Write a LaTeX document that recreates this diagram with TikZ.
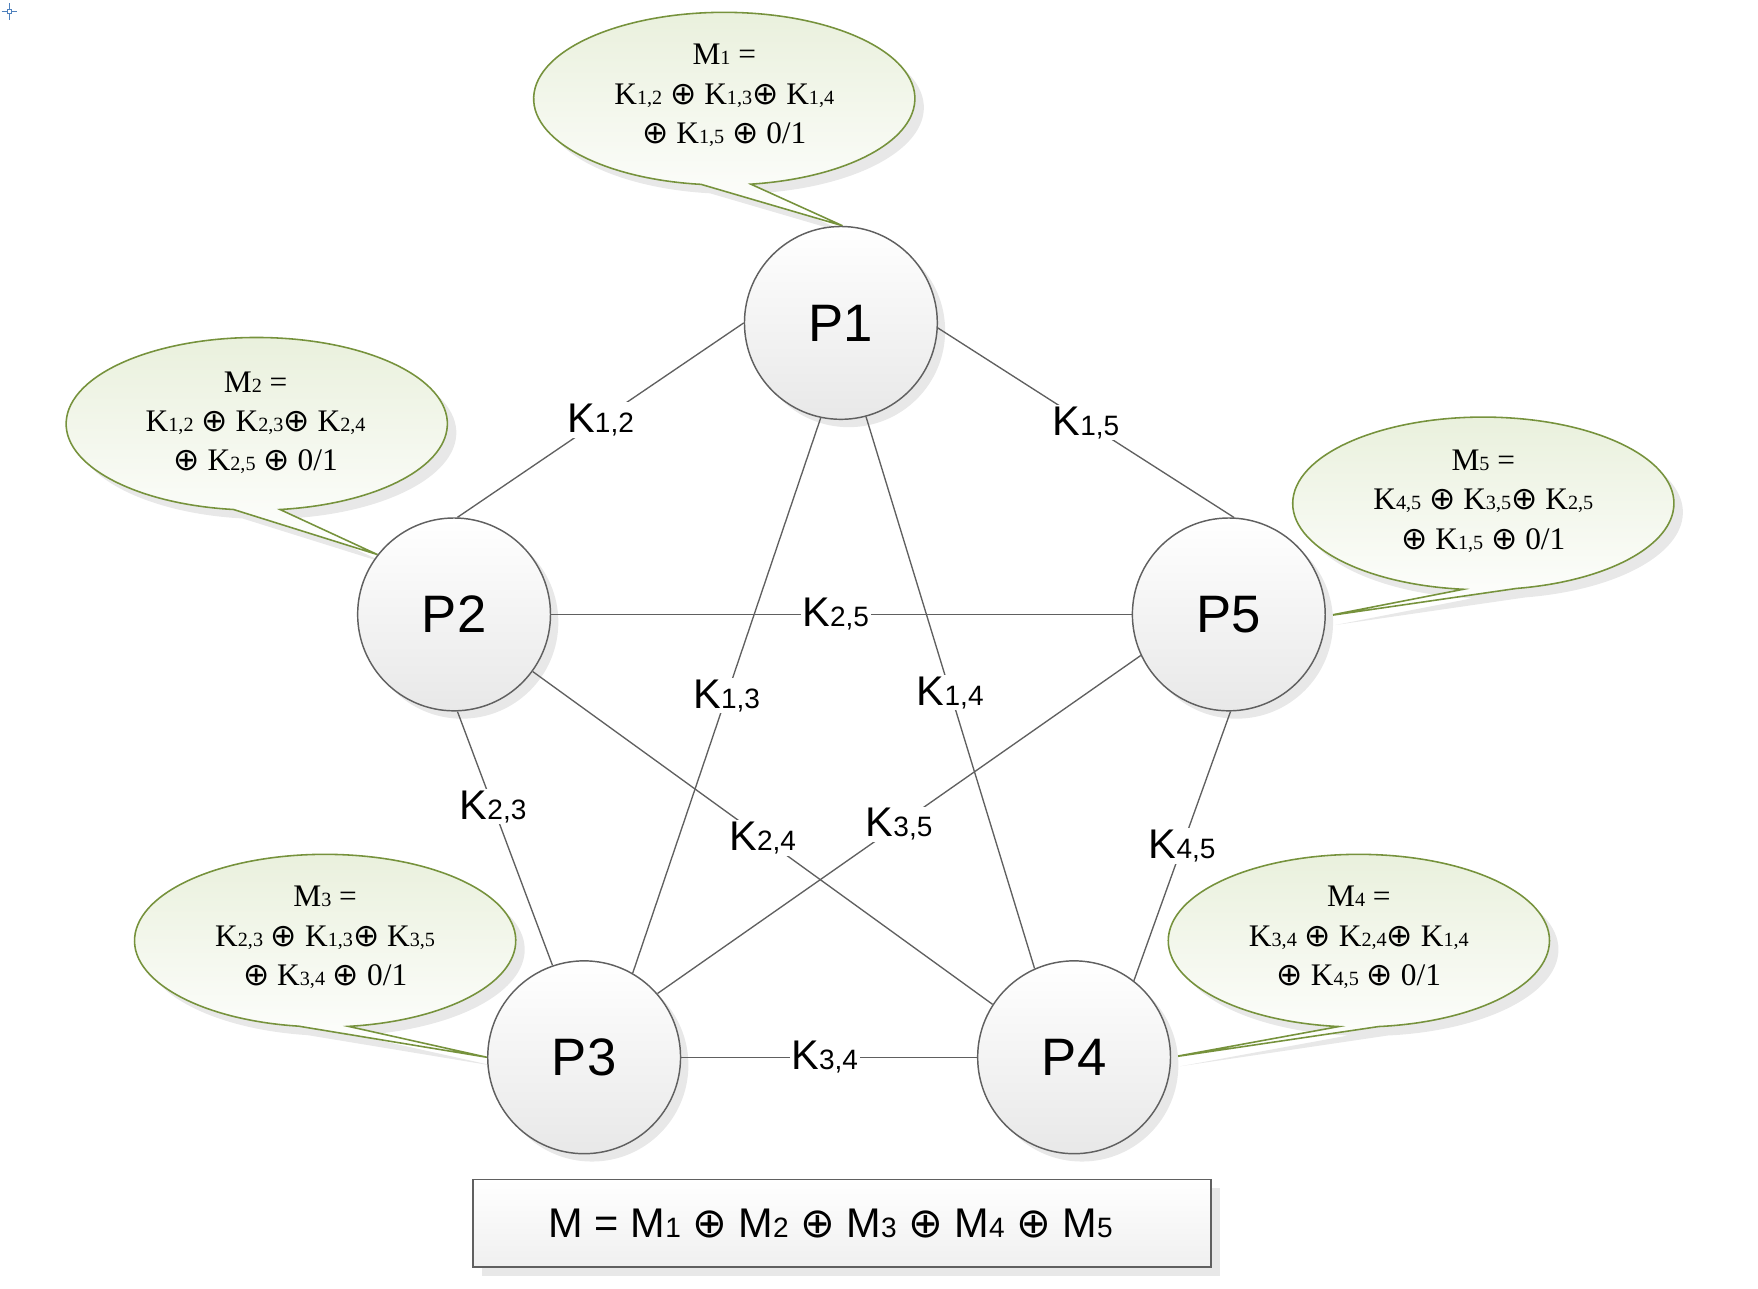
\documentclass[tikz,border=0pt]{standalone}
\usepackage{fontspec}
\setmainfont{Liberation Serif}
\setsansfont{Liberation Sans}
\newfontfamily\opfont{DejaVu Sans}
\usepackage{tikz}
\usetikzlibrary{calc}
\usetikzlibrary{shadows,backgrounds}
\tikzset{every node/.style={font=\sffamily}}
\definecolor{myolive}{RGB}{118,146,60}
\definecolor{mygreen}{RGB}{233,240,220}
\definecolor{myedge}{RGB}{96,96,96}
\definecolor{mycross}{RGB}{79,129,189}
\colorlet{myshadow}{black!9}
\def\Rx{170}
\def\Ry{77}
% 下标：只缩小字号，不下沉
\newcommand{\ks}[1]{{\fontsize{25}{25}\selectfont #1}}
\newcommand{\ms}[1]{{\fontsize{18}{18}\selectfont #1}}
\newcommand{\op}{{\opfont ⊕}}
% 气泡：中心, 尖端, 起止角
\newcommand{\bubble}[4]{($(#1)+({\Rx*cos(#3)},{\Ry*sin(#3)})$) arc [start angle = #3, end angle = #4 + 360, x radius = \Rx, y radius = \Ry] -- (#2) -- cycle}

\tikzset{
  pnode/.style = {circle, draw=myedge, line width=1.3pt, minimum size=172pt, inner sep=0pt,
    top color=white, bottom color=black!9, font=\sffamily\fontsize{47}{47}\selectfont,
    drop shadow={opacity=1, fill=myshadow, shadow xshift=7pt, shadow yshift=-7pt}},
  klink/.style = {draw=myedge, line width=1.2pt},
  klab/.style = {fill=white, inner sep=1.5pt, font=\sffamily\fontsize{37}{37}\selectfont},
  mcall/.style = {draw=myolive, line width=1.4pt, top color=mygreen, bottom color=white,
    drop shadow={opacity=1, fill=myshadow, shadow xshift=8pt, shadow yshift=-8pt}},
  mtext/.style = {align=center, inner sep=0pt, font=\rmfamily\fontsize{28}{35}\selectfont},
  sumbox/.style = {draw=myedge, line width=1.4pt, top color=white, bottom color=black!6,
    minimum width=658pt, minimum height=78pt, font=\sffamily\fontsize{37}{37}\selectfont,
    drop shadow={opacity=1, fill=myshadow, shadow xshift=8pt, shadow yshift=-8pt}}
}

\begin{document}
\begin{tikzpicture}[x=1pt, y=-1pt]
  \useasboundingbox (0,0) rectangle (1568,1149);

  % 五个参与方
  \node[pnode] (P1) at (750,288) {P1};
  \node[pnode] (P2) at (405,548) {P2};
  \node[pnode] (P5) at (1096,548) {P5};
  \node[pnode] (P3) at (521,943) {P3};
  \node[pnode] (P4) at (958,943) {P4};

  % 两两之间的密钥
  \draw[klink] (P1.180) -- (P2.88) node[klab, midway] (k12) {K\ks{1,2}};
  \draw[klink] (P1.-3) -- (P5.87) node[klab, midway] (k15) {K\ks{1,5}};
  \draw[klink] (P1.258) -- (P3.60) node[klab, midway] (k13) {K\ks{1,3}};
  \draw[klink] (P1.285) -- (P4.114) node[klab, midway] (k14) {K\ks{1,4}};
  \draw[klink] (P2.0) -- (P5.180) node[klab, pos=0.49] (k25) {K\ks{2,5}};
  \draw[klink] (P2.272) -- (P3.109) node[klab, pos=0.375] (k23) {K\ks{2,3}};
  \draw[klink] (P2.324) -- (P4.147) node[klab, midway] (k24) {K\ks{2,4}};
  \draw[klink] (P5.205) -- (P3.41) node[klab, midway] (k35) {K\ks{3,5}};
  \draw[klink] (P5.271) -- (P4.52) node[klab, midway] (k45) {K\ks{4,5}};
  \draw[klink] (P3.0) -- (P4.180) node[klab, pos=0.485] (k34) {K\ks{3,4}};

  % 气泡说明
  \coordinate (m1) at (646,88);
  \coordinate (m2) at (229,378);
  \coordinate (m5) at (1323,449);
  \coordinate (m3) at (290,839);
  \coordinate (m4) at (1212,839);

  \begin{scope}[on background layer]
    \draw[mcall] \bubble{m1}{P1.89}{97}{82};
    \draw[mcall] \bubble{m2}{P2.142}{97}{83};
    \draw[mcall] \bubble{m5}{P5.-1}{96}{80};
    \draw[mcall] \bubble{m3}{P3.180}{98}{83};
    \draw[mcall] \bubble{m4}{P4.0}{96}{84};
  \end{scope}

  \node[mtext] (M1) at (646,85) {M\ms{1} =\\K\ms{1,2} \op{} K\ms{1,3}\op{} K\ms{1,4}\\\op{} K\ms{1,5} \op{} 0/1};
  \node[mtext] (M2) at (228,377) {M\ms{2} =\\K\ms{1,2} \op{} K\ms{2,3}\op{} K\ms{2,4}\\\op{} K\ms{2,5} \op{} 0/1};
  \node[mtext] (M5) at (1323,447) {M\ms{5} =\\K\ms{4,5} \op{} K\ms{3,5}\op{} K\ms{2,5}\\\op{} K\ms{1,5} \op{} 0/1};
  \node[mtext] (M3) at (290,836) {M\ms{3} =\\K\ms{2,3} \op{} K\ms{1,3}\op{} K\ms{3,5}\\\op{} K\ms{3,4} \op{} 0/1};
  \node[mtext] (M4) at (1212,836) {M\ms{4} =\\K\ms{3,4} \op{} K\ms{2,4}\op{} K\ms{1,4}\\\op{} K\ms{4,5} \op{} 0/1};

  % 总和
  \node[sumbox] (Msum) at (751,1091) {M = M\ks{1} \op{} M\ks{2} \op{} M\ks{3} \op{} M\ks{4} \op{} M\ks{5}\hspace*{20pt}};

  % 左上角的小标记
  \draw[mycross, line width=0.9pt] (6.5,8.2) rectangle (10.5,12.2);
  \draw[mycross, line width=0.9pt] (1.5,10.2) -- (6.5,10.2) (10.5,10.2) -- (15.5,10.2)
    (8.5,3) -- (8.5,8.2) (8.5,12.2) -- (8.5,17.4);
\end{tikzpicture}
\end{document}
